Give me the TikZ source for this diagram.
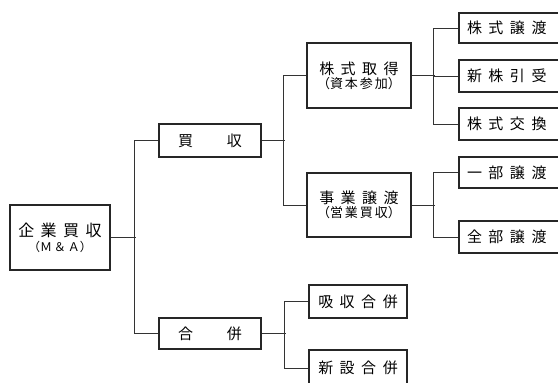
\documentclass[tikz,border=0pt]{standalone}
\usepackage{fontspec}
\newfontfamily\jp{Noto Sans CJK JP}
\newcommand\jx{\hspace{6.5pt}}
\newcommand\jy{\hspace{2pt}}
\tikzset{
  box/.style={draw=black!85, line width=1.1pt, fill=white, inner sep=0pt, align=center, font=\jp\fontsize{15}{17}\selectfont},
  rbox/.style={box, minimum width=111pt, text width=95pt, inner xsep=8pt, align=left},
  ln/.style={draw=black!80, line width=1pt}
}
\begin{document}
\begin{tikzpicture}[x=1pt,y=-1pt]
\useasboundingbox (0,0) rectangle (558,383);
\clip (0,0) rectangle (558,383);
\fill[white] (0,0) rectangle (558,383);

\node[box, minimum width=100pt, minimum height=65pt] (ma) at (60,237.5)
  {\fontsize{16}{18}\selectfont 企\jx 業\jx 買\jx 収\\[-2pt]\fontsize{12}{14}\selectfont （Ｍ\jy ＆\jy Ａ）};

\node[box, minimum width=102pt, minimum height=33pt] (bai) at (210,140.5) {買\hspace{34pt}収};
\node[box, minimum width=102pt, minimum height=31pt] (gap) at (210,333.5) {合\hspace{34pt}併};

\node[box, minimum width=104pt, minimum height=65pt] (kabu) at (359,75.5)
  {株\jx 式\jx 取\jx 得\\[-3pt]\fontsize{13}{15}\selectfont （資\jy 本\jy 参\jy 加）};
\node[box, minimum width=104pt, minimum height=64pt] (jigyo) at (359,205)
  {事\jx 業\jx 譲\jx 渡\\[-3pt]\fontsize{13}{15}\selectfont （営\jy 業\jy 買\jy 収）};

\node[box, minimum width=98pt, minimum height=33pt] (g1) at (358,301.5) {吸\jx 収\jx 合\jx 併};
\node[box, minimum width=98pt, minimum height=36pt] (g2) at (358,368) {新\jx 設\jx 合\jx 併};

\node[rbox, minimum height=30pt] (s1) at (514.5,28) {株\jx 式\jx 譲\jx 渡};
\node[rbox, minimum height=32pt] (s2) at (514.5,76) {新\jx 株\jx 引\jx 受};
\node[rbox, minimum height=32pt] (s3) at (514.5,124) {株\jx 式\jx 交\jx 換};
\node[rbox, minimum height=31pt] (b1) at (514.5,172.5) {一\jx 部\jx 譲\jx 渡};
\node[rbox, minimum height=32pt] (b2) at (514.5,237) {全\jx 部\jx 譲\jx 渡};

\draw[ln] (ma.east) -- ++(25,0);
\draw[ln] (bai.west) -- ++(-24,0) |- (gap.west);

\draw[ln] (bai.east) -- ++(23,0);
\draw[ln] (kabu.west) -- ++(-23,0) |- (jigyo.west);

\draw[ln] (gap.east) -- ++(24,0);
\draw[ln] (g1.west) -- ++(-24,0) |- (g2.west);

\draw[ln] (kabu.east) -- ++(23,0);
\draw[ln] (s1.west) -- ++(-25,0) |- (s3.west);
\draw[ln] (s2.west) -- ++(-25,0);

\draw[ln] (jigyo.east) -- ++(23,0);
\draw[ln] (b1.west) -- ++(-25,0) |- (b2.west);
\end{tikzpicture}
\end{document}
